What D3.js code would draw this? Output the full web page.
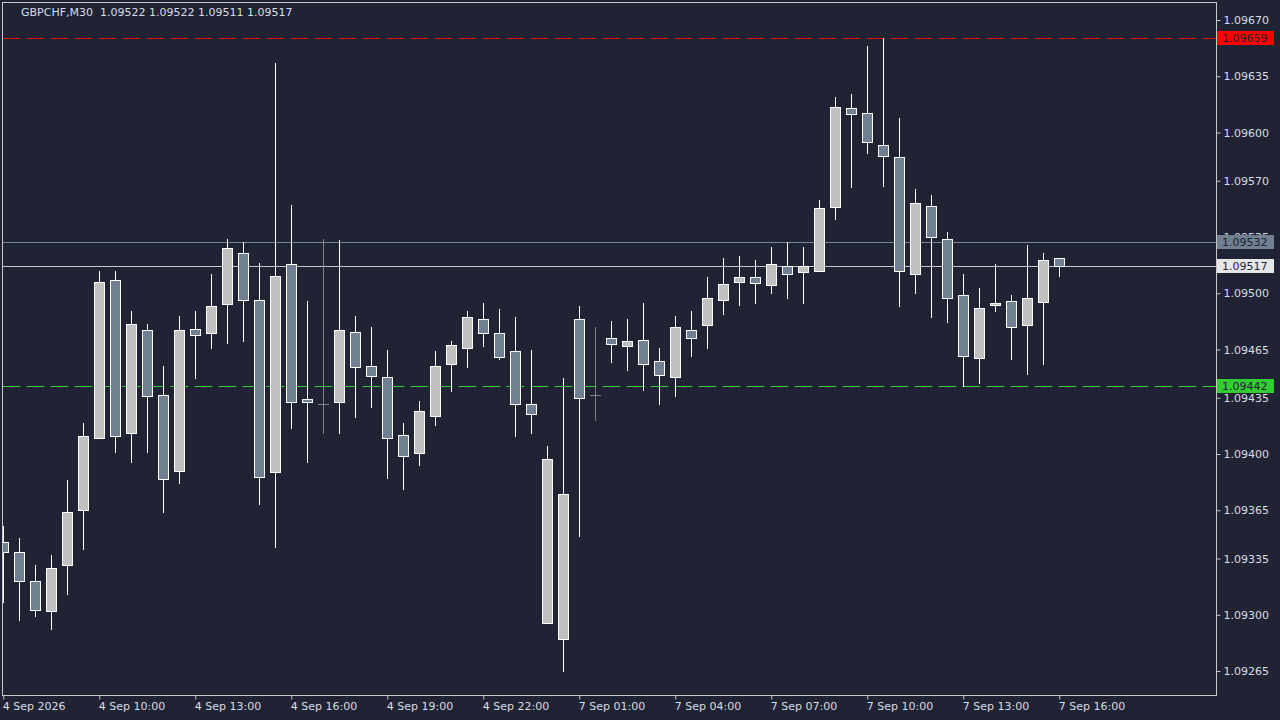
<!DOCTYPE html>
<html><head><meta charset="utf-8">
<script src="https://cdn.jsdelivr.net/npm/d3@7"></script>
<style>
html,body{margin:0;padding:0;background:#1f2333;}
svg{display:block;}
text{font-family:"DejaVu Sans",sans-serif;}
</style></head>
<body>
<script>
// ---------- data ----------
const times = ["4 Sep 07:00","4 Sep 07:30","4 Sep 08:00","4 Sep 08:30","4 Sep 09:00","4 Sep 09:30",
"4 Sep 10:00","4 Sep 10:30","4 Sep 11:00","4 Sep 11:30","4 Sep 12:00","4 Sep 12:30",
"4 Sep 13:00","4 Sep 13:30","4 Sep 14:00","4 Sep 14:30","4 Sep 15:00","4 Sep 15:30",
"4 Sep 16:00","4 Sep 16:30","4 Sep 17:00","4 Sep 17:30","4 Sep 18:00","4 Sep 18:30",
"4 Sep 19:00","4 Sep 19:30","4 Sep 20:00","4 Sep 20:30","4 Sep 21:00","4 Sep 21:30",
"4 Sep 22:00","4 Sep 22:30","4 Sep 23:00","4 Sep 23:30","7 Sep 00:00","7 Sep 00:30",
"7 Sep 01:00","7 Sep 01:30","7 Sep 02:00","7 Sep 02:30","7 Sep 03:00","7 Sep 03:30",
"7 Sep 04:00","7 Sep 04:30","7 Sep 05:00","7 Sep 05:30","7 Sep 06:00","7 Sep 06:30",
"7 Sep 07:00","7 Sep 07:30","7 Sep 08:00","7 Sep 08:30","7 Sep 09:00","7 Sep 09:30",
"7 Sep 10:00","7 Sep 10:30","7 Sep 11:00","7 Sep 11:30","7 Sep 12:00","7 Sep 12:30",
"7 Sep 13:00","7 Sep 13:30","7 Sep 14:00","7 Sep 14:30","7 Sep 15:00","7 Sep 15:30",
"7 Sep 16:00"];
const open  = [1.09345,1.09339,1.09321,1.09302,1.09331,1.09365,1.09410,1.09508,1.09413,1.09477,1.09437,1.09389,
1.09478,1.09475,1.09493,1.09525,1.09496,1.09389,1.09518,1.09434,1.09431,1.09432,1.09476,1.09455,
1.09448,1.09412,1.09401,1.09424,1.09456,1.09466,1.09484,1.09475,1.09464,1.09431,1.09295,1.09285,
1.09484,1.09437,1.09472,1.09467,1.09471,1.09458,1.09448,1.09477,1.09480,1.09496,1.09507,1.09510,
1.09505,1.09517,1.09513,1.09514,1.09554,1.09615,1.09612,1.09592,1.09585,1.09512,1.09554,1.09534,
1.09499,1.09460,1.09493,1.09495,1.09480,1.09495,1.09522];
const high  = [1.09355,1.09348,1.09331,1.09337,1.09384,1.09419,1.09514,1.09514,1.09489,1.09481,1.09455,1.09486,
1.09489,1.09512,1.09534,1.09532,1.09519,1.09643,1.09555,1.09495,1.09534,1.09533,1.09486,1.09479,
1.09465,1.09419,1.09433,1.09464,1.09470,1.09489,1.09494,1.09490,1.09485,1.09465,1.09405,1.09447,
1.09492,1.09479,1.09483,1.09484,1.09494,1.09466,1.09486,1.09489,1.09510,1.09522,1.09523,1.09521,
1.09529,1.09532,1.09529,1.09558,1.09622,1.09624,1.09654,1.09659,1.09609,1.09565,1.09561,1.09538,
1.09512,1.09503,1.09518,1.09499,1.09530,1.09525,1.09522];
const low   = [1.09308,1.09297,1.09299,1.09291,1.09313,1.09341,1.09410,1.09401,1.09395,1.09401,1.09364,1.09382,
1.09447,1.09466,1.09469,1.09470,1.09369,1.09342,1.09416,1.09395,1.09413,1.09413,1.09423,1.09429,
1.09385,1.09378,1.09393,1.09418,1.09439,1.09454,1.09467,1.09459,1.09411,1.09413,1.09295,1.09265,
1.09349,1.09421,1.09457,1.09452,1.09440,1.09431,1.09436,1.09461,1.09466,1.09487,1.09493,1.09494,
1.09500,1.09497,1.09494,1.09514,1.09546,1.09566,1.09587,1.09567,1.09492,1.09500,1.09485,1.09482,
1.09442,1.09444,1.09489,1.09459,1.09450,1.09456,1.09511];
const close = [1.09339,1.09321,1.09303,1.09329,1.09364,1.09411,1.09507,1.09411,1.09481,1.09436,1.09385,1.09477,
1.09474,1.09492,1.09528,1.09496,1.09386,1.09511,1.09432,1.09432,1.09431,1.09477,1.09454,1.09449,
1.09410,1.09399,1.09427,1.09455,1.09468,1.09485,1.09475,1.09460,1.09431,1.09425,1.09397,1.09375,
1.09435,1.09437,1.09468,1.09470,1.09456,1.09449,1.09479,1.09472,1.09497,1.09506,1.09510,1.09506,
1.09518,1.09512,1.09517,1.09553,1.09616,1.09611,1.09594,1.09585,1.09514,1.09556,1.09535,1.09497,
1.09461,1.09491,1.09494,1.09479,1.09497,1.09521,1.09517];

const priceTicks = [1.09670,1.09635,1.09600,1.09570,1.09535,1.09500,1.09465,1.09435,1.09400,1.09365,1.09335,1.09300,1.09265];
const timeTicks  = ["4 Sep 07:00","4 Sep 10:00","4 Sep 13:00","4 Sep 16:00","4 Sep 19:00","4 Sep 22:00",
                    "7 Sep 01:00","7 Sep 04:00","7 Sep 07:00","7 Sep 10:00","7 Sep 13:00","7 Sep 16:00"];
const timeTickLabels = ["4 Sep 2026","4 Sep 10:00","4 Sep 13:00","4 Sep 16:00","4 Sep 19:00","4 Sep 22:00",
                    "7 Sep 01:00","7 Sep 04:00","7 Sep 07:00","7 Sep 10:00","7 Sep 13:00","7 Sep 16:00"];
const symbol = "GBPCHF,M30";
const bidPrice = 1.09517;
const askPrice = 1.09532;
const highLevel = 1.09659;
const lowLevel = 1.09442;

// ---------- layout ----------
const W = 1280, H = 720;
const frame = {l: 2.5, t: 2.5, r: 1216.5, b: 695.5};
const BG = "#1f2333";
const FG = "#d9dde5";
const BULL = "#c0c0c0", BEAR = "#708090";

const svg = d3.select("body").append("svg").attr("width", W).attr("height", H);
svg.append("rect").attr("width", W).attr("height", H).attr("fill", BG);

const y = d3.scaleLinear().domain([1.09265, 1.09670]).range([671, 20]);
const x = d3.scalePoint().domain(times).range([3.3, 3.3 + 16 * (times.length - 1)]);

svg.append("clipPath").attr("id","plot").append("rect")
  .attr("x", frame.l + 0.5).attr("y", frame.t + 0.5)
  .attr("width", frame.r - frame.l - 1).attr("height", frame.b - frame.t - 1);

const plot = svg.append("g").attr("clip-path","url(#plot)");

const px = v => Math.round(v) + 0.5;

// level lines
function hline(p, color, dash) {
  plot.append("line").attr("x1", frame.l).attr("x2", frame.r)
    .attr("y1", px(y(p))).attr("y2", px(y(p)))
    .attr("stroke", color).attr("stroke-width", 1)
    .attr("stroke-dasharray", dash || null);
}
hline(highLevel, "#e00000", "18,6");
hline(lowLevel, "#32cd32", "18,6");
hline(askPrice, "#778899");
hline(bidPrice, "#c8c8c8");

// candles
const data = times.map((t, i) => ({t, o: open[i], h: high[i], l: low[i], c: close[i]}));
const g = plot.selectAll("g.c").data(data).enter().append("g");
g.append("line")
  .attr("x1", d => px(x(d.t))).attr("x2", d => px(x(d.t)))
  .attr("y1", d => Math.round(y(d.h))).attr("y2", d => Math.round(y(d.l)) + 1)
  .attr("stroke", d => d.o === d.c ? "#808080" : "#ffffff").attr("stroke-width", 1);
g.filter(d => d.o !== d.c).append("rect")
  .attr("x", d => Math.round(x(d.t)) - 5 + 0.5)
  .attr("y", d => px(y(Math.max(d.o, d.c))))
  .attr("width", 10)
  .attr("height", d => Math.max(1, Math.round(Math.abs(y(d.o) - y(d.c)))))
  .attr("fill", d => d.c > d.o ? BULL : BEAR)
  .attr("stroke", "#ffffff").attr("stroke-width", 1);
g.filter(d => d.o === d.c).append("line")
  .attr("x1", d => Math.round(x(d.t)) - 5).attr("x2", d => Math.round(x(d.t)) + 6)
  .attr("y1", d => px(y(d.o))).attr("y2", d => px(y(d.o)))
  .attr("stroke", "#808080").attr("stroke-width", 1);

// frame
svg.append("rect").attr("x", frame.l).attr("y", frame.t)
  .attr("width", frame.r - frame.l).attr("height", frame.b - frame.t)
  .attr("fill", "none").attr("stroke", "#c8c8c8").attr("stroke-width", 1);

// right axis
const yAxis = d3.axisRight(y).tickValues(priceTicks).tickFormat(d3.format(".5f"))
  .tickSize(4).tickPadding(3);
const ya = svg.append("g").attr("transform", `translate(${frame.r},0)`).call(yAxis);
ya.select(".domain").remove();
ya.selectAll(".tick line").attr("stroke", "#c8c8c8");
ya.selectAll(".tick text").attr("fill", FG).attr("font-size", 11)
  .attr("font-family", "DejaVu Sans");

// bottom axis
const xAxis = d3.axisBottom(x).tickValues(timeTicks)
  .tickFormat(d => timeTickLabels[timeTicks.indexOf(d)]).tickSize(4).tickPadding(3);
const xa = svg.append("g").attr("transform", `translate(0,${frame.b})`).call(xAxis);
xa.select(".domain").remove();
xa.selectAll(".tick line").attr("stroke", "#c8c8c8");
xa.selectAll(".tick text").attr("fill", FG).attr("font-size", 11)
  .attr("font-family", "DejaVu Sans").attr("text-anchor", "start").attr("x", -1);

// price boxes
function box(p, bg, fg) {
  const yy = y(p);
  svg.append("rect").attr("x", 1217).attr("y", Math.round(yy) - 7)
    .attr("width", 57).attr("height", 14).attr("fill", bg);
  svg.append("text").attr("x", 1222).attr("y", yy).attr("dy", "0.36em")
    .attr("fill", fg).attr("font-size", 11).text(d3.format(".5f")(p));
}
box(highLevel, "#ff0000", "#1f2333");
box(askPrice, "#708090", "#1f2333");
box(bidPrice, "#e6e6e6", "#1f2333");
box(lowLevel, "#32cd32", "#1f2333");

// title
const last = data[data.length - 1];
svg.append("text").attr("x", 21).attr("y", 16).attr("fill", FG).attr("font-size", 11)
  .attr("xml:space", "preserve")
  .text(`${symbol}  ${[last.o, last.h, last.l, last.c].map(d3.format(".5f")).join(" ")}`);
</script>
</body></html>
